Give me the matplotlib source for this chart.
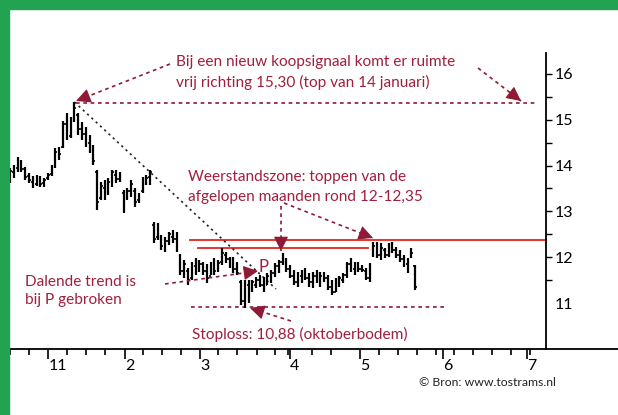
import matplotlib
matplotlib.use("Agg")
import matplotlib.pyplot as plt
import numpy as np
from matplotlib.lines import Line2D
from matplotlib.patches import Rectangle

# ---------------- data ----------------
days = list(range(108))
highs = [13.95, 14.01, 14.19, 14.12, 13.97, 13.84, 13.77, 13.79, 13.77, 13.73,
         13.84, 14.01, 14.38, 14.40, 14.97, 15.15, 15.06, 15.39, 15.15, 14.95,
         14.84, 14.67, 14.45, 13.90, 13.64, 13.69, 13.73, 13.90, 13.90, 13.86,
         13.47, 13.51, 13.69, 13.51, 13.40, 13.75, 13.79, 13.90, 12.77, 12.75,
         12.48, 12.44, 12.55, 12.59, 12.55, 12.07, 11.94, 11.76, 11.90, 11.98,
         11.94, 11.90, 11.85, 11.90, 11.98, 11.94, 12.20, 12.11, 12.00, 12.00,
         11.90, 11.50, 11.50, 11.50, 11.50, 11.57, 11.61, 11.57, 11.66, 11.72,
         11.87, 11.94, 12.09, 11.98, 11.83, 11.72, 11.68, 11.72, 11.76, 11.66,
         11.68, 11.72, 11.68, 11.68, 11.61, 11.50, 11.55, 11.59, 11.66, 11.90,
         11.98, 11.90, 11.90, 11.83, 11.76, 11.87, 12.33, 12.33, 12.31, 12.20,
         12.31, 12.33, 12.22, 12.16, 12.05, 11.98, 12.20, 11.83]
lows = [13.62, 13.73, 13.86, 13.86, 13.69, 13.62, 13.51, 13.55, 13.53, 13.53,
        13.69, 13.77, 13.95, 14.12, 14.38, 14.56, 14.60, 14.95, 14.67, 14.56,
        14.40, 14.27, 14.01, 13.03, 13.25, 13.25, 13.36, 13.53, 13.62, 13.64,
        12.97, 13.25, 13.31, 13.10, 13.18, 13.40, 13.58, 13.58, 12.31, 12.38,
        12.16, 12.11, 12.27, 12.31, 12.11, 11.61, 11.55, 11.39, 11.50, 11.61,
        11.68, 11.61, 11.44, 11.61, 11.61, 11.68, 11.83, 11.87, 11.76, 11.66,
        11.61, 10.96, 10.88, 10.99, 11.24, 11.33, 11.35, 11.24, 11.39, 11.44,
        11.57, 11.66, 11.83, 11.68, 11.55, 11.39, 11.35, 11.44, 11.50, 11.35,
        11.33, 11.44, 11.35, 11.46, 11.28, 11.17, 11.24, 11.35, 11.44, 11.55,
        11.68, 11.61, 11.68, 11.68, 11.50, 11.46, 12.00, 11.98, 11.94, 11.98,
        12.00, 12.09, 11.98, 11.90, 11.79, 11.66, 11.98, 11.28]
opens = [13.70, 13.85, 13.95, 14.08, 13.92, 13.78, 13.65, 13.60, 13.70, 13.62,
         13.72, 13.82, 14.00, 14.30, 14.40, 14.90, 14.65, 15.00, 15.10, 14.80,
         14.70, 14.50, 14.40, 13.85, 13.30, 13.50, 13.40, 13.60, 13.80, 13.70,
         13.40, 13.30, 13.45, 13.45, 13.25, 13.45, 13.65, 13.75, 12.70, 12.45,
         12.45, 12.20, 12.35, 12.45, 12.40, 12.00, 11.70, 11.70, 11.55, 11.80,
         11.75, 11.85, 11.70, 11.60, 11.80, 11.72, 11.90, 12.05, 11.95, 11.85,
         11.75, 11.45, 11.05, 11.40, 11.30, 11.40, 11.50, 11.40, 11.40, 11.55,
         11.65, 11.80, 11.90, 11.95, 11.75, 11.60, 11.45, 11.60, 11.65, 11.55,
         11.45, 11.60, 11.50, 11.60, 11.55, 11.35, 11.25, 11.45, 11.50, 11.62,
         11.85, 11.75, 11.80, 11.75, 11.70, 11.55, 12.05, 12.25, 12.05, 12.15,
         12.05, 12.25, 12.15, 12.05, 11.95, 11.85, 12.00, 11.80]
closes = [13.88, 13.95, 14.10, 13.92, 13.75, 13.68, 13.60, 13.70, 13.60, 13.68,
          13.80, 13.95, 14.30, 14.25, 14.90, 14.65, 15.00, 15.25, 14.80, 14.70,
          14.50, 14.40, 14.10, 13.20, 13.55, 13.35, 13.65, 13.85, 13.70, 13.80,
          13.05, 13.45, 13.60, 13.20, 13.30, 13.70, 13.72, 13.85, 12.40, 12.65,
          12.25, 12.35, 12.50, 12.40, 12.15, 11.70, 11.85, 11.50, 11.80, 11.70,
          11.85, 11.70, 11.55, 11.80, 11.70, 11.88, 12.10, 11.95, 11.85, 11.75,
          11.65, 11.05, 11.40, 11.10, 11.45, 11.50, 11.40, 11.30, 11.60, 11.65,
          11.80, 11.90, 12.00, 11.75, 11.60, 11.45, 11.60, 11.65, 11.55, 11.45,
          11.60, 11.50, 11.60, 11.55, 11.35, 11.25, 11.45, 11.55, 11.62, 11.85,
          11.75, 11.80, 11.75, 11.72, 11.55, 11.80, 12.25, 12.05, 12.20, 12.05,
          12.25, 12.15, 12.05, 11.95, 11.85, 11.75, 12.10, 11.35]

month_labels = ["11", "2", "3", "4", "5", "6", "7"]
y_ticks = [11, 12, 13, 14, 15, 16]

resist_upper = 12.38
resist_lower = 12.20
stoploss_level = 10.92
top_level = 15.36

# ---------------- layout helpers (pixel -> data) ----------------
W, H = 618, 415
PX0, PXD = 10.0, 3.786     # x pixel of day 0, pixels per day
PY11, PYU = 303.0, 45.8    # y pixel of price 11, pixels per unit

def X(px):
    return (px - PX0) / PXD

def Y(py):
    return 11 + (PY11 - py) / PYU

AL, AR, AT, AB = 8.7, 546.0, 53.0, 349.0

fig = plt.figure(figsize=(W / 100, H / 100), dpi=100)
fig.patch.set_facecolor("white")
ax = fig.add_axes([AL / W, (H - AB) / H, (AR - AL) / W, (AB - AT) / H])
ax.set_xlim(X(AL), X(AR))
ax.set_ylim(Y(AB), Y(AT))
ax.set_facecolor("white")

FONT = ["Lato", "DejaVu Sans"]
TXT = "#a01f3d"
ARR = "#8e1a36"
RED = "#e8352b"

# green frame
fig.patches.append(Rectangle((0, 1 - 9.5 / H), 1, 9.5 / H, transform=fig.transFigure,
                             color="#22a352", zorder=10))
fig.patches.append(Rectangle((0, 0), 8.7 / W, 1, transform=fig.transFigure,
                             color="#22a352", zorder=10))

# spines
for s in ["left", "top"]:
    ax.spines[s].set_visible(False)
ax.spines["right"].set_linewidth(1.3)
ax.spines["bottom"].set_linewidth(1.3)
fig.add_artist(Line2D([AR / W, 1], [(H - AB) / H, (H - AB) / H], transform=fig.transFigure,
                      color="black", lw=1.3))

# y axis on right
ax.yaxis.tick_right()
ax.set_yticks(y_ticks)
ax.set_yticklabels([str(v) for v in y_ticks], fontfamily=FONT, fontsize=11.5)
ax.set_yticks([11.5, 12.5, 13.5, 14.5, 15.5], minor=True)
ax.tick_params(axis="y", which="major", length=4, width=1, pad=2.5, right=True, left=False)
ax.tick_params(axis="y", which="minor", length=4, width=1, right=True, left=False)
ax.yaxis.get_major_ticks()[0].tick2line.set_visible(False)

# x axis
major_px = [48.3, 125, 200, 290, 360, 443.3, 526.7]
minor_px = [10, 29.3, 66.7, 86, 105, 143.3, 162.3, 181, 218.3, 237.3, 256.7, 275,
            287.7, 311.7, 330.7, 379, 397.7, 416.7, 435.7, 454.3, 473.3, 492.3, 511, 530]
ax.set_xticks([X(p) for p in major_px])
ax.set_xticklabels(month_labels, fontfamily=FONT, fontsize=11.5, ha="left")
ax.set_xticks([X(p) for p in minor_px], minor=True)
ax.tick_params(axis="x", which="major", length=7, width=1.2, pad=0.5)
ax.tick_params(axis="x", which="minor", length=4, width=1.2)

# OHLC bars
d = np.array(days, dtype=float)
ax.vlines(d, lows, highs, color="black", lw=1.6, zorder=3)
ax.hlines(opens, d - 0.45, d, color="black", lw=1.2, zorder=3)
ax.hlines(closes, d, d + 0.45, color="black", lw=1.2, zorder=3)

# resistance lines
ax.plot([X(190), X(AR)], [resist_upper, resist_upper], color=RED, lw=1.4, zorder=2, clip_on=False)
ax.plot([X(198), X(368)], [resist_lower, resist_lower], color=RED, lw=1.4, zorder=2)

# dotted horizontal levels
dash = (0, (2.2, 2.2))
ax.plot([X(76), X(535)], [top_level, top_level], color=ARR, lw=1.2, ls=dash, zorder=2)
ax.plot([X(191), X(447)], [stoploss_level, stoploss_level], color=ARR, lw=1.2, ls=dash, zorder=2)

# falling trend line (black dotted) from the top
peak_day = int(np.argmax(highs))
ax.plot([peak_day, X(276)], [highs[peak_day], Y(289)], color="#222222", lw=1.2,
        ls=(0, (1.3, 2.2)), zorder=2)

def arrow(p0, p1):
    x0, y0 = X(p0[0]), Y(p0[1])
    x1, y1 = X(p1[0]), Y(p1[1])
    ax.plot([x0, x1], [y0, y1], color=ARR, lw=1.2, ls=dash, zorder=4, clip_on=False)
    # solid head
    vx, vy = p1[0] - p0[0], p1[1] - p0[1]
    n = (vx ** 2 + vy ** 2) ** 0.5
    bx, by = p1[0] - vx / n * 13, p1[1] - vy / n * 13
    ax.annotate("", xy=(x1, y1), xytext=(X(bx), Y(by)),
                arrowprops=dict(arrowstyle="-|>,head_length=0.9,head_width=0.45",
                                color=ARR, lw=0.8, shrinkA=0, shrinkB=0),
                annotation_clip=False, zorder=5)

arrow((170, 64), (76, 101))
arrow((478, 68), (521, 101))
arrow((281, 206), (281, 251))
arrow((284, 203), (373, 238))
arrow((165, 284), (258, 271))
arrow((291, 321), (250, 308))

def label(px, py, s, size=11.1, color=TXT, ha="left"):
    ax.text(X(px), Y(py), s, fontsize=size, color=color, ha=ha, va="center",
            fontfamily=FONT, clip_on=False, zorder=6)

label(176, 62, "Bij een nieuw koopsignaal komt er ruimte")
label(176, 82, "vrij richting 15,30 (top van 14 januari)")
label(188, 177, "Weerstandszone: toppen van de")
label(188, 197, "afgelopen maanden rond 12-12,35")
label(25, 282, "Dalende trend is")
label(25, 300, "bij P gebroken")
label(192, 334, "Stoploss: 10,88 (oktoberbodem)")
label(259, 267, "P", size=12)
label(556, 382, "© Bron: www.tostrams.nl", size=8.8, color="#222222", ha="right")

fig.savefig("out.png", dpi=100, facecolor="white")
